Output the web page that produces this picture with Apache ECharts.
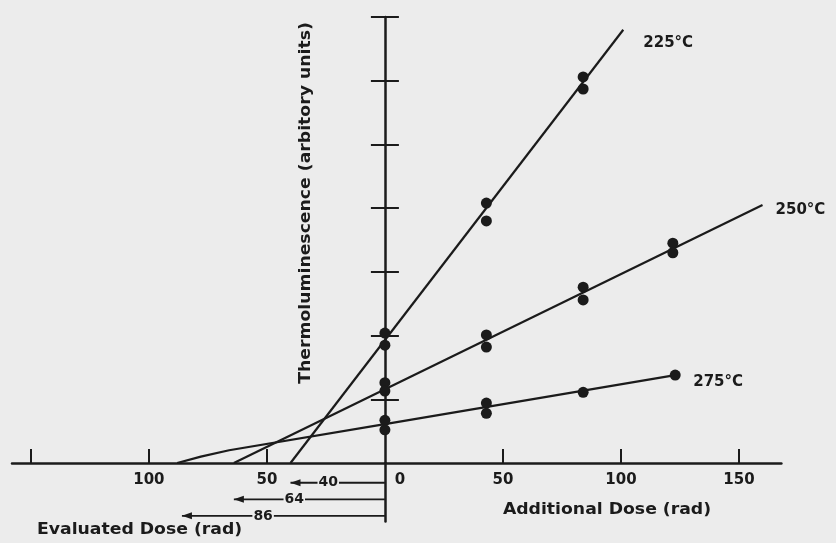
<!DOCTYPE html>
<html>
<head>
<meta charset="utf-8">
<script src="https://cdn.jsdelivr.net/npm/echarts@6/dist/echarts.min.js"></script>
<style>
html,body{margin:0;padding:0;background:#ececec;}
#c{width:836px;height:543px;}
</style>
</head>
<body>
<div id="c"></div>
<script>
// ---- data ----
const xTickValues = [-150, -100, -50, 50, 100, 150];
const xLabelValues = [-100, -50, 0, 50, 100, 150];
const yTickValues = [1, 2, 3, 4, 5, 6, 7];
const seriesNames = ['225°C', '250°C', '275°C'];

// measured points [additional dose (rad), TL (arb. units)]
const points225 = [[0, 2.04], [0, 1.85], [43, 4.08], [43, 3.80], [84, 6.06], [84, 5.87]];
const points250 = [[0, 1.26], [0, 1.13], [43, 2.01], [43, 1.82], [84, 2.76], [84, 2.56], [122, 3.45], [122, 3.30]];
const points275 = [[0, 0.67], [0, 0.52], [43, 0.94], [43, 0.78], [84, 1.11], [123, 1.38]];

// fitted / extrapolated lines
const fit225 = [[-40, 0], [101, 6.8]];
const fit250 = [[-64, 0], [160, 4.05]];
const fit275 = [[-88, 0], [-78, 0.1], [-66, 0.2], [0, 0.61], [123, 1.38]];

// evaluated doses (rad)
const evaluatedDose = [40, 64, 86];

const xAxisTitle = 'Additional Dose (rad)';
const evalTitle = 'Evaluated Dose (rad)';
const yAxisTitle = 'Thermoluminescence (arbitory units)';

// ---- styling ----
const INK = '#1b1b1b';
const BG = '#ececec';
const FONT = 'DejaVu Sans';

const chart = echarts.init(document.getElementById('c'), null, {renderer: 'canvas'});

const txt = (size) => ({color: INK, fontFamily: FONT, fontWeight: 'bold', fontSize: size});

function fitSeries(name, data, offset) {
  return {
    name: name, type: 'line', data: data, symbol: 'none', z: 2,
    lineStyle: {color: INK, width: 2.2},
    itemStyle: {color: INK},
    endLabel: Object.assign({show: true, formatter: '{a}', offset: offset}, txt(15)),
    silent: true
  };
}
function pointSeries(name, data) {
  return {
    name: name + ' pts', type: 'scatter', data: data, symbol: 'circle', symbolSize: 11, z: 3,
    itemStyle: {color: INK, opacity: 1}
  };
}

const arrowSeries = [];
evaluatedDose.forEach(function (d, i) {
  const row = -(0.31 + 0.26 * i);
  arrowSeries.push({
    type: 'line', symbol: 'none', z: 2, silent: true, xAxisIndex: 2, yAxisIndex: 2,
    lineStyle: {color: INK, width: 1.8},
    itemStyle: {color: INK, opacity: 1},
    data: [
      {value: [0, row]},
      {value: [-d, row], symbol: 'triangle', symbolSize: [7, 10], symbolRotate: 90, symbolOffset: [5, 0]}
    ]
  });
  arrowSeries.push({
    type: 'scatter', symbol: 'circle', symbolSize: 1, z: 4, silent: true, xAxisIndex: 2, yAxisIndex: 2,
    itemStyle: {color: 'transparent', opacity: 1},
    data: [[-d * 0.6, row]],
    label: Object.assign({show: true, position: 'inside', formatter: String(d),
      backgroundColor: BG, padding: [0, 1]}, txt(14))
  });
});

const hiddenAxis = (gi) => ({type: 'value', min: -158, max: 168, show: false, gridIndex: gi});

const option = {
  backgroundColor: BG,
  animation: false,
  grid: [
    {left: 12, top: 17, width: 769.4, height: 446, outerBoundsMode: 'none', containLabel: false},
    {left: 12, top: 463, width: 769.4, height: 58.6, outerBoundsMode: 'none', containLabel: false}
  ],
  xAxis: [{
    type: 'value', min: -158, max: 168, gridIndex: 0,
    axisLine: {onZero: true, onZeroAxisIndex: 0, lineStyle: {color: INK, width: 2.5}},
    axisTick: {show: true, inside: true, length: 14, customValues: xTickValues, lineStyle: {color: INK, width: 2}},
    axisLabel: Object.assign({
      customValues: xLabelValues, margin: 10,
      formatter: function (v) { return v === 0 ? '{z|0}' : String(Math.abs(v)); },
      rich: {z: Object.assign({padding: [0, 0, 0, 30]}, txt(15))}
    }, txt(15)),
    splitLine: {show: false}
  }, hiddenAxis(0), hiddenAxis(1)],
  yAxis: [{
    type: 'value', min: 0, max: 7, position: 'left', gridIndex: 0,
    axisLine: {show: true, onZero: true, onZeroAxisIndex: 0, lineStyle: {color: INK, width: 2.5}},
    axisTick: {show: true, inside: false, length: 14, customValues: yTickValues, lineStyle: {color: INK, width: 2}},
    axisLabel: {show: false},
    splitLine: {show: false}
  }, {
    type: 'value', min: 0, max: 7, position: 'right', gridIndex: 0,
    axisLine: {show: false, onZero: true, onZeroAxisIndex: 1, lineStyle: {color: INK, width: 2.5}},
    axisTick: {show: true, inside: false, length: 14, customValues: yTickValues, lineStyle: {color: INK, width: 2}},
    axisLabel: {show: false},
    splitLine: {show: false}
  }, {
    type: 'value', min: -0.92, max: 0, position: 'left', gridIndex: 1,
    axisLine: {show: true, onZero: true, onZeroAxisIndex: 2, lineStyle: {color: INK, width: 2.5}},
    axisTick: {show: false},
    axisLabel: {show: false},
    splitLine: {show: false}
  }],
  graphic: [
    {type: 'text', x: 607, y: 510, scaleX: 1.15, silent: true,
      style: {text: xAxisTitle, fill: INK, fontFamily: FONT, fontWeight: 'bold', fontSize: 15, align: 'center', verticalAlign: 'middle'}},
    {type: 'text', x: 37, y: 530, scaleX: 1.15, silent: true,
      style: {text: evalTitle, fill: INK, fontFamily: FONT, fontWeight: 'bold', fontSize: 15, align: 'left', verticalAlign: 'middle'}},
    {type: 'text', x: 306, y: 203, rotation: Math.PI / 2, scaleX: 1.15, silent: true,
      style: {text: yAxisTitle, fill: INK, fontFamily: FONT, fontWeight: 'bold', fontSize: 15, align: 'center', verticalAlign: 'middle'}}
  ],
  series: [
    fitSeries(seriesNames[0], fit225, [12, 13]),
    fitSeries(seriesNames[1], fit250, [5, 5]),
    fitSeries(seriesNames[2], fit275, [10, 7]),
    pointSeries(seriesNames[0], points225),
    pointSeries(seriesNames[1], points250),
    pointSeries(seriesNames[2], points275)
  ].concat(arrowSeries)
};
chart.setOption(option);
</script>
</body>
</html>
